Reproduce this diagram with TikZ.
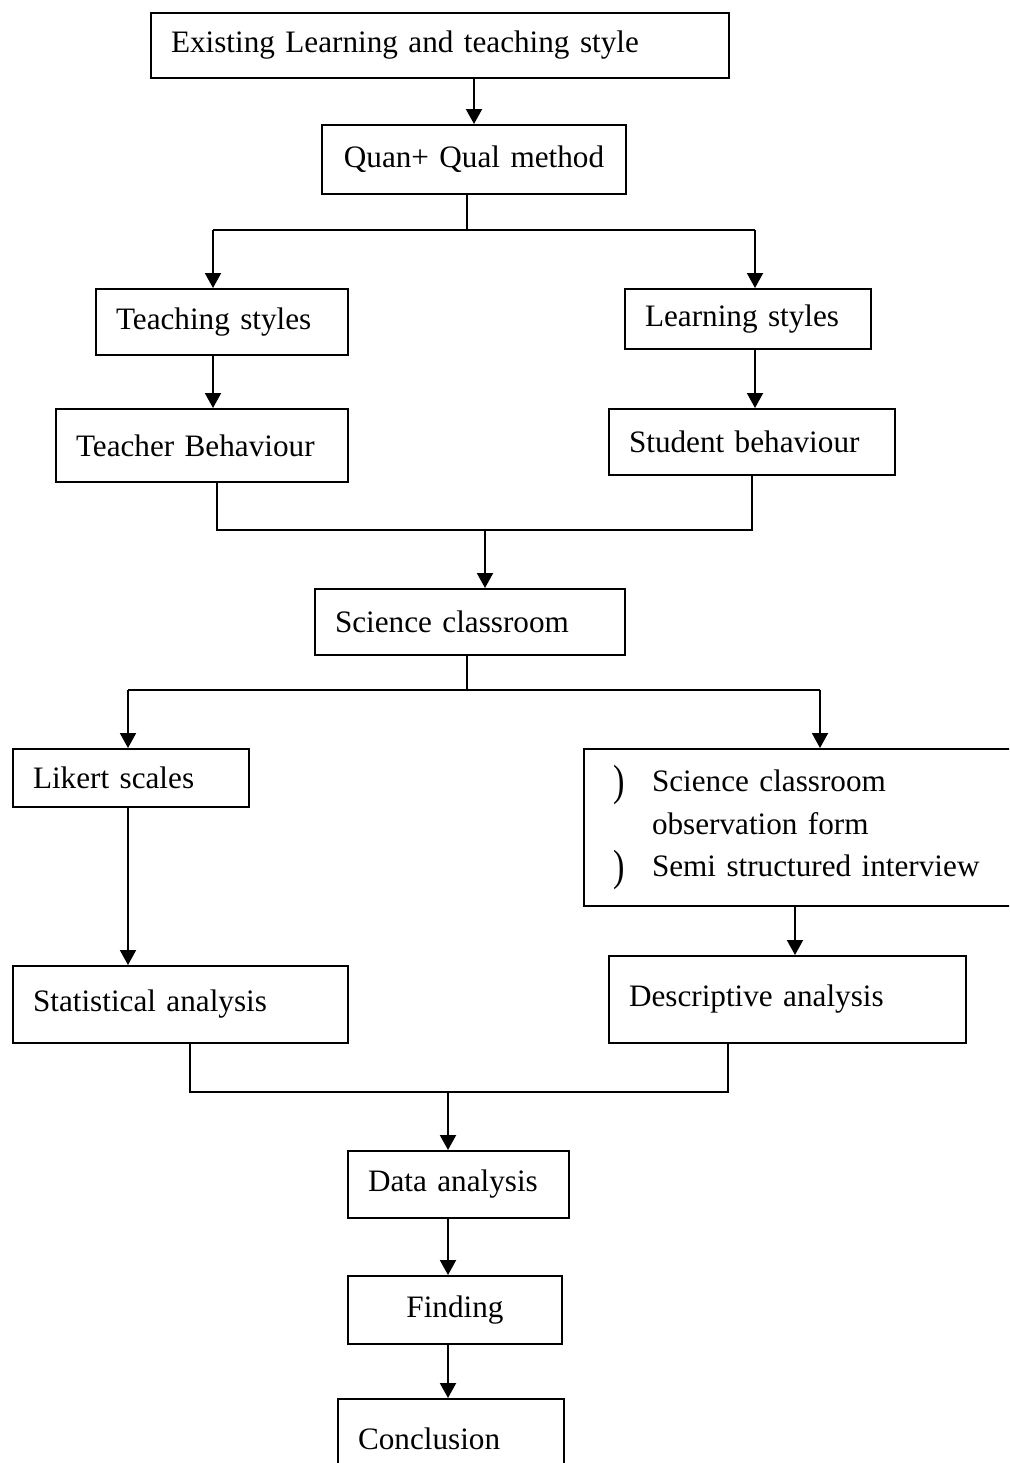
\documentclass[tikz,border=0pt]{standalone}
\usepackage{fontspec}
\setmainfont{Liberation Serif}
\usetikzlibrary{arrows.meta}

\tikzset{
  box/.style={draw, line width=1pt, rectangle, anchor=north west, inner xsep=10pt, inner ysep=0pt,
    align=left, font=\fontsize{15.6}{21.25}\selectfont},
  arr/.style={-{Triangle[width=8pt,length=7.5pt]}, line width=1pt},
  ln/.style={line width=1pt},
}
\newcommand{\obsbullet}{\makebox[19.5pt][l]{\raisebox{-2pt}{\scalebox{1.1}[1.4]{)}}}}

\begin{document}
\begin{tikzpicture}[x=0.5pt,y=-0.5pt]

%Page frame
\clip (0,0) rectangle (1009,1463);

%Boxes
\node[box, text width=269pt, minimum height=32.5pt] (exist) at (150,12) {Existing Learning and teaching style};
\node[box, align=center, inner xsep=4pt, text width=144pt, minimum height=34.5pt] (quan) at (321,124) {Quan+ Qual method};
\node[box, text width=106pt, minimum height=33pt] (teach) at (95,288) {Teaching styles};
\node[box, text width=103pt, minimum height=30pt] (learn) at (624,288) {Learning styles};
\node[box, text width=126pt, minimum height=36.5pt] (teacher) at (55,408) {Teacher Behaviour};
\node[box, text width=123pt, minimum height=33pt] (student) at (608,408) {Student behaviour};
\node[box, text width=135pt, minimum height=33pt] (sci) at (314,588) {Science classroom};
\node[box, text width=98pt, minimum height=29pt] (likert) at (12,748) {Likert scales};
\node[box, inner xsep=14.5pt, text width=187pt, minimum height=78.5pt] (obs) at (583,748)
  {\obsbullet Science classroom\\ \hspace*{19.5pt}observation form\\ \obsbullet Semi structured interview};
\node[box, text width=147.5pt, minimum height=38.5pt] (stat) at (12,965) {Statistical analysis};
\node[box, text width=158.5pt, minimum height=43.5pt] (desc) at (608,955) {Descriptive analysis};
\node[box, text width=90.5pt, minimum height=33.5pt] (data) at (347,1150) {Data analysis};
\node[box, align=center, text width=87pt, minimum height=34pt] (find) at (347,1275) {Finding};
\node[box, text width=93pt, minimum height=40pt] (concl) at (337,1398) {Conclusion};

%Branch points
\coordinate (qsplit) at (467,230);
\coordinate (tl) at (213,230);
\coordinate (tr) at (755,230);
\coordinate (ml) at (217,530);
\coordinate (mr) at (752,530);
\coordinate (mm) at (485,530);
\coordinate (ssplit) at (467,690);
\coordinate (sl) at (128,690);
\coordinate (sr) at (820,690);
\coordinate (obsdown) at (795,930);
\coordinate (dl) at (190,1092);
\coordinate (dr) at (728,1092);
\coordinate (dm) at (448,1092);

%Connectors
\draw[arr] (quan.north |- exist.south) -- (quan.north);
\draw[ln] (qsplit |- quan.south) -- (qsplit);
\draw[ln] (tl) -- (tr);
\draw[arr] (tl) -- (tl |- teach.north);
\draw[arr] (tr) -- (tr |- learn.north);
\draw[arr] (tl |- teach.south) -- (tl |- teacher.north);
\draw[arr] (tr |- learn.south) -- (tr |- student.north);
\draw[ln] (ml |- teacher.south) -- (ml) -- (mr) -- (mr |- student.south);
\draw[arr] (mm) -- (mm |- sci.north);
\draw[ln] (ssplit |- sci.south) -- (ssplit);
\draw[ln] (sl) -- (sr);
\draw[arr] (sl) -- (sl |- likert.north);
\draw[arr] (sr) -- (sr |- obs.north);
\draw[arr] (sl |- likert.south) -- (sl |- stat.north);
\draw[arr] (obsdown |- obs.south) -- (obsdown |- desc.north);
\draw[ln] (dl |- stat.south) -- (dl) -- (dr) -- (dr |- desc.south);
\draw[arr] (dm) -- (dm |- data.north);
\draw[arr] (dm |- data.south) -- (dm |- find.north);
\draw[arr] (dm |- find.south) -- (dm |- concl.north);
\end{tikzpicture}
\end{document}
